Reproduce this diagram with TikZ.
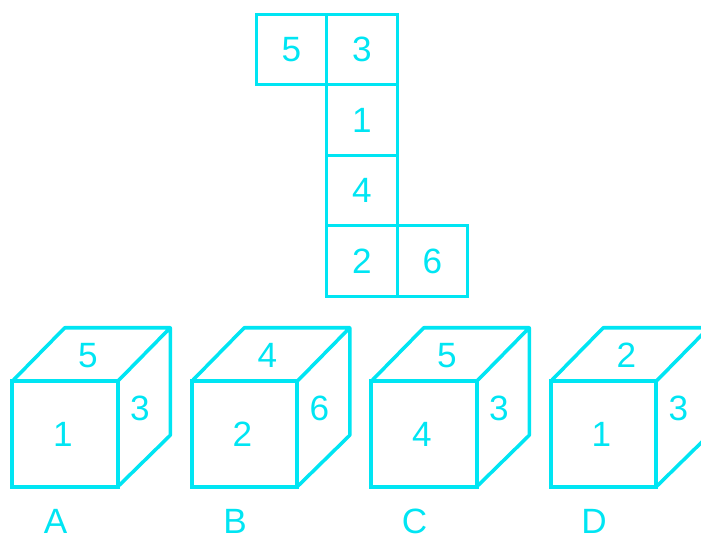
\documentclass[tikz,border=0pt]{standalone}
\usepackage{fontspec}
\setmainfont{Liberation Sans}
\usepackage{xcolor}
\usepackage{tikz}
\definecolor{netcyan}{RGB}{0,229,243}

\begin{document}
\begin{tikzpicture}[x=0.02cm,y=-0.02cm,font=\fontsize{20}{20}\selectfont,text=netcyan,
  cell/.style={draw=netcyan,line width=1.9pt,minimum size=1.41cm,inner sep=0pt,outer sep=0pt},
  frontface/.style={draw=netcyan,line width=2.3pt,minimum size=2.11cm,inner sep=0pt,outer sep=0pt},
  digit/.style={inner sep=0pt}]
\useasboundingbox (0,0) rectangle (701,536);
% the net
\node[cell] (c5) at (291.5,49.5) {5};
\node[cell] (c3) at (362,49.5) {3};
\node[cell] (c1) at (362,120) {1};
\node[cell] (c4) at (362,190.5) {4};
\node[cell] (c2) at (362,261) {2};
\node[cell] (c6) at (432.5,261) {6};
% the four cubes
\foreach \x/\top/\front/\side/\lab in {12/5/1/3/A,191.5/4/2/6/B,371/5/4/3/C,550.5/2/1/3/D}{
  \node[frontface] (f\lab) at (\x+53,434) {};
  \draw[netcyan,line width=2pt,line join=round]
    (f\lab.north west) -- ++(52.5,-53.5) coordinate (b\lab) -- ++(105.5,0) coordinate (r\lab)
    -- (f\lab.north east) (r\lab) -- ++(0,107.5) -- (f\lab.south east);
  \node[digit] (t\lab) at (\x+76,355.5) {\top};
  \node[digit] (m\lab) at (\x+51,434.5) {\front};
  \node[digit] (s\lab) at (\x+128,408) {\side};
  \node[digit] (l\lab) at (\x+43.5,521) {\lab};
}
\end{tikzpicture}
\end{document}
